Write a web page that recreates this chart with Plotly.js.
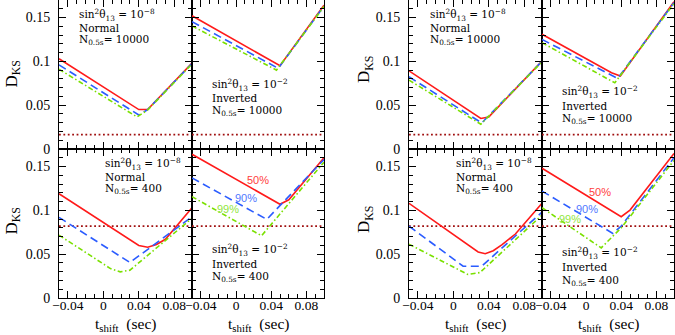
<!DOCTYPE html>
<html><head><meta charset="utf-8">
<script src="https://cdn.plot.ly/plotly-3.0.1.min.js"></script>
<style>html,body{margin:0;padding:0;background:#fff}#chart{width:675px;height:335px}</style>
</head><body><div id="chart"></div>
<script>
// ---- data (t_shift in sec, D_KS) ----
// Left figure, top-left: sin^2 theta13 = 1e-8, Normal, N=10000
const A_red_x = [-0.05, 0.04, 0.05, 0.1],  A_red_y = [0.103, 0.045, 0.045, 0.098];
const A_blu_x = [-0.05, 0.04, 0.05, 0.1],  A_blu_y = [0.096, 0.0388, 0.045, 0.0975];
const A_grn_x = [-0.05, 0.038, 0.05, 0.1], A_grn_y = [0.091, 0.0366, 0.0445, 0.097];
// Left figure, top-right: 1e-2, Inverted, N=10000
const B_red_x = [-0.05, 0.05, 0.1],  B_red_y = [0.152, 0.095, 0.164];
const B_blu_x = [-0.05, 0.048, 0.1], B_blu_y = [0.1453, 0.092, 0.163];
const B_grn_x = [-0.05, 0.046, 0.1], B_grn_y = [0.1404, 0.090, 0.1625];
// Left figure, bottom-left: 1e-8, Normal, N=400
const C_red_x = [-0.05, 0.04, 0.05, 0.06, 0.07, 0.08, 0.1], C_red_y = [0.119, 0.060, 0.058, 0.061, 0.067, 0.079, 0.103];
const C_blu_x = [-0.05, 0.03, 0.1],  C_blu_y = [0.092, 0.0405, 0.0927];
const C_grn_x = [-0.05, 0.008, 0.019, 0.03, 0.1], C_grn_y = [0.0717, 0.0336, 0.0298, 0.0317, 0.091];
// Left figure, bottom-right: 1e-2, Inverted, N=400
const D_red_x = [-0.05, 0.05, 0.06, 0.1], D_red_y = [0.164, 0.107, 0.112, 0.160];
const D_blu_x = [-0.05, 0.035, 0.1], D_blu_y = [0.137, 0.0897, 0.158];
const D_grn_x = [-0.05, 0.029, 0.1], D_grn_y = [0.1156, 0.071, 0.155];
// Right figure, top-left: 1e-8, Normal, N=10000
const E_red_x = [-0.05, 0.031, 0.04, 0.1], E_red_y = [0.0892, 0.0348, 0.0366, 0.1003];
const E_blu_x = [-0.05, 0.032, 0.1], E_blu_y = [0.0824, 0.0297, 0.100];
const E_grn_x = [-0.05, 0.031, 0.1], E_grn_y = [0.0786, 0.0283, 0.0995];
// Right figure, top-right: 1e-2, Inverted, N=10000
const F_red_x = [-0.05, 0.029, 0.039, 0.1], F_red_y = [0.1309, 0.087, 0.0832, 0.168];
const F_blu_x = [-0.05, 0.036, 0.1],  F_blu_y = [0.125, 0.0805, 0.167];
const F_grn_x = [-0.05, 0.0327, 0.1], F_grn_y = [0.1213, 0.0755, 0.166];
// Right figure, bottom-left: 1e-8, Normal, N=400
const G_red_x = [-0.05, 0.028, 0.036, 0.045, 0.055, 0.07, 0.1], G_red_y = [0.108, 0.0526, 0.0505, 0.054, 0.061, 0.073, 0.108];
const G_blu_x = [-0.05, 0.011, 0.032, 0.1], G_blu_y = [0.082, 0.0363, 0.0363, 0.098];
const G_grn_x = [-0.05, 0.0165, 0.03, 0.1], G_grn_y = [0.0614, 0.0268, 0.029, 0.0946];
// Right figure, bottom-right: 1e-2, Inverted, N=400
const H_red_x = [-0.05, 0.04, 0.05, 0.1],   H_red_y = [0.148, 0.0927, 0.1003, 0.165];
const H_blu_x = [-0.05, 0.0305, 0.04, 0.1], H_blu_y = [0.122, 0.0737, 0.082, 0.160];
const H_grn_x = [-0.05, 0.0173, 0.04, 0.1], H_grn_y = [0.103, 0.0572, 0.080, 0.157];
// thresholds (dotted lines)
const thrX = [-0.05, 0.1];
const thrTop = 0.0165, thrBottom = 0.082;
// tick labels
const xTickVals = [-0.04, 0, 0.04, 0.08];
const yTickVals = [0, 0.05, 0.1, 0.15];
const pctLabels = ['50%', '90%', '99%'];

const W = 675, H = 335;
const RED = '#ff1a1a', BLUE = '#2b5cff', GREEN = '#7ae000', DOT = '#a01010';

const panels = [
  {px:[59,192],  py:[0,149],   left:true,  bottom:false, thr:thrTop,    s:[[A_red_x,A_red_y],[A_blu_x,A_blu_y],[A_grn_x,A_grn_y]]},
  {px:[192,324], py:[0,149],   left:false, bottom:false, thr:thrTop,    s:[[B_red_x,B_red_y],[B_blu_x,B_blu_y],[B_grn_x,B_grn_y]]},
  {px:[59,192],  py:[149,298], left:true,  bottom:true,  thr:thrBottom, s:[[C_red_x,C_red_y],[C_blu_x,C_blu_y],[C_grn_x,C_grn_y]]},
  {px:[192,324], py:[149,298], left:false, bottom:true,  thr:thrBottom, s:[[D_red_x,D_red_y],[D_blu_x,D_blu_y],[D_grn_x,D_grn_y]]},
  {px:[409,542], py:[0,149],   left:true,  bottom:false, thr:thrTop,    s:[[E_red_x,E_red_y],[E_blu_x,E_blu_y],[E_grn_x,E_grn_y]]},
  {px:[542,674], py:[0,149],   left:false, bottom:false, thr:thrTop,    s:[[F_red_x,F_red_y],[F_blu_x,F_blu_y],[F_grn_x,F_grn_y]]},
  {px:[409,542], py:[149,298], left:true,  bottom:true,  thr:thrBottom, s:[[G_red_x,G_red_y],[G_blu_x,G_blu_y],[G_grn_x,G_grn_y]]},
  {px:[542,674], py:[149,298], left:false, bottom:true,  thr:thrBottom, s:[[H_red_x,H_red_y],[H_blu_x,H_blu_y],[H_grn_x,H_grn_y]]}
];

const styles = [
  {color:RED, width:1.6, dash:'solid'},
  {color:BLUE, width:1.6, dash:'8px,4.5px'},
  {color:GREEN, width:1.6, dash:'5px,2.5px,1.5px,2.5px'}
];

const traces = [];
const layout = {
  width:W, height:H, margin:{l:0,r:0,t:0,b:0},
  paper_bgcolor:'#fff', plot_bgcolor:'rgba(0,0,0,0)', showlegend:false,
  font:{family:'Liberation Serif, serif', color:'#000'},
  annotations:[]
};

panels.forEach((p, i) => {
  const n = i + 1, sfx = n === 1 ? '' : String(n);
  traces.push({x:thrX, y:[p.thr, p.thr], xaxis:'x'+sfx, yaxis:'y'+sfx, mode:'lines',
    line:{color:DOT, width:1.8, dash:'1.8px,2.6px'}, hoverinfo:'skip'});
  p.s.forEach((s, k) => {
    traces.push({x:s[0], y:s[1], xaxis:'x'+sfx, yaxis:'y'+sfx, mode:'lines',
      line:styles[k], hoverinfo:'skip'});
  });
  const common = {ticks:'inside', tickcolor:'#000', tickwidth:1, mirror:'allticks',
    showline:true, linecolor:'#000', linewidth:1, showgrid:false, zeroline:false, fixedrange:true,
    tickfont:{family:'Liberation Serif, serif', size:14, color:'#000'}};
  layout['xaxis'+sfx] = Object.assign({}, common, {
    domain:[p.px[0]/W, p.px[1]/W], range:[-0.05, 0.1], anchor:'y'+sfx,
    tickmode:'array', tickvals:xTickVals, ticklen:7,
    minor:{ticks:'inside', ticklen:4, dtick:0.01, tick0:0, tickcolor:'#000', tickwidth:1},
    showticklabels:p.bottom, ticklabelstandoff:-5,
    tickfont:{family:'Liberation Serif, serif', size:13.5, color:'#000'}
  });
  layout['yaxis'+sfx] = Object.assign({}, common, {
    domain:[1 - p.py[1]/H, 1 - p.py[0]/H], range:[0, 0.17], anchor:'x'+sfx,
    tickmode:'array', tickvals:yTickVals, ticklen:7,
    minor:{ticks:'inside', ticklen:4, dtick:0.01, tick0:0, tickcolor:'#000', tickwidth:1},
    showticklabels:p.left, ticklabelstandoff:5
  });
});

function ann(text, px, py, opts) {
  layout.annotations.push(Object.assign({
    text:text, x:px/W, y:1 - py/H, xref:'paper', yref:'paper',
    xanchor:'left', yanchor:'middle', showarrow:false,
    font:{family:'DejaVu Serif, serif', size:10.5, color:'#000'}
  }, opts || {}));
}
const sinN = 'sin<sup>2</sup>θ<sub>13</sub> = 10<sup>−8</sup>';
const sinI = 'sin<sup>2</sup>θ<sub>13</sub> = 10<sup>−2</sup>';
const nLab = v => 'N<sub>0.5s</sub>= ' + v;
[[76.7,15,sinN],[76.7,27.5,'Normal'],[76.7,40.5,nLab('10000')],
 [210,85,sinI],[210,98,'Inverted'],[210,110.5,nLab('10000')],
 [103,163.5,sinN],[103,176.5,'Normal'],[103,189,nLab('400')],
 [210,250,sinI],[210,263.5,'Inverted'],[210,276.5,nLab('400')],
 [427.5,15,sinN],[427.5,27.5,'Normal'],[427.5,40.5,nLab('10000')],
 [560,91.5,sinI],[560,106,'Inverted'],[560,119,nLab('10000')],
 [454,164,sinN],[454,176.5,'Normal'],[454,189,nLab('400')],
 [560,253,sinI],[560,267,'Inverted'],[560,280.5,nLab('400')]
].forEach(a => ann(a[2], a[0], a[1]));

// percentage labels
const pctCols = ['#ff4040', '#4f78ff', '#90e640'];
[[258,180.5],[245.5,198.5],[228.5,208.5]].forEach((q,k) =>
  ann(pctLabels[k], q[0], q[1], {xanchor:'center', font:{family:'Liberation Sans, sans-serif', size:11, color:pctCols[k]}}));
[[600,192],[587,209],[570,219]].forEach((q,k) =>
  ann(pctLabels[k], q[0], q[1], {xanchor:'center', font:{family:'Liberation Sans, sans-serif', size:11, color:pctCols[k]}}));

// axis titles
const serifT = {family:'Liberation Serif, serif', size:17, color:'#000'};
[[12.5,74],[12.5,221],[365,70],[365,220]].forEach(q =>
  ann('D<sub>KS</sub>', q[0], q[1], {xanchor:'center', textangle:-90, font:serifT}));
[[125.5,335],[258,335],[475.5,335],[608,335]].forEach(q =>
  ann('t<sub>shift</sub>  (sec)', q[0], q[1], {xanchor:'center', yanchor:'bottom', borderpad:0,
    font:{family:'Liberation Serif, serif', size:15.5, color:'#000'}}));

Plotly.newPlot('chart', traces, layout, {staticPlot:true, displayModeBar:false});
</script></body></html>
